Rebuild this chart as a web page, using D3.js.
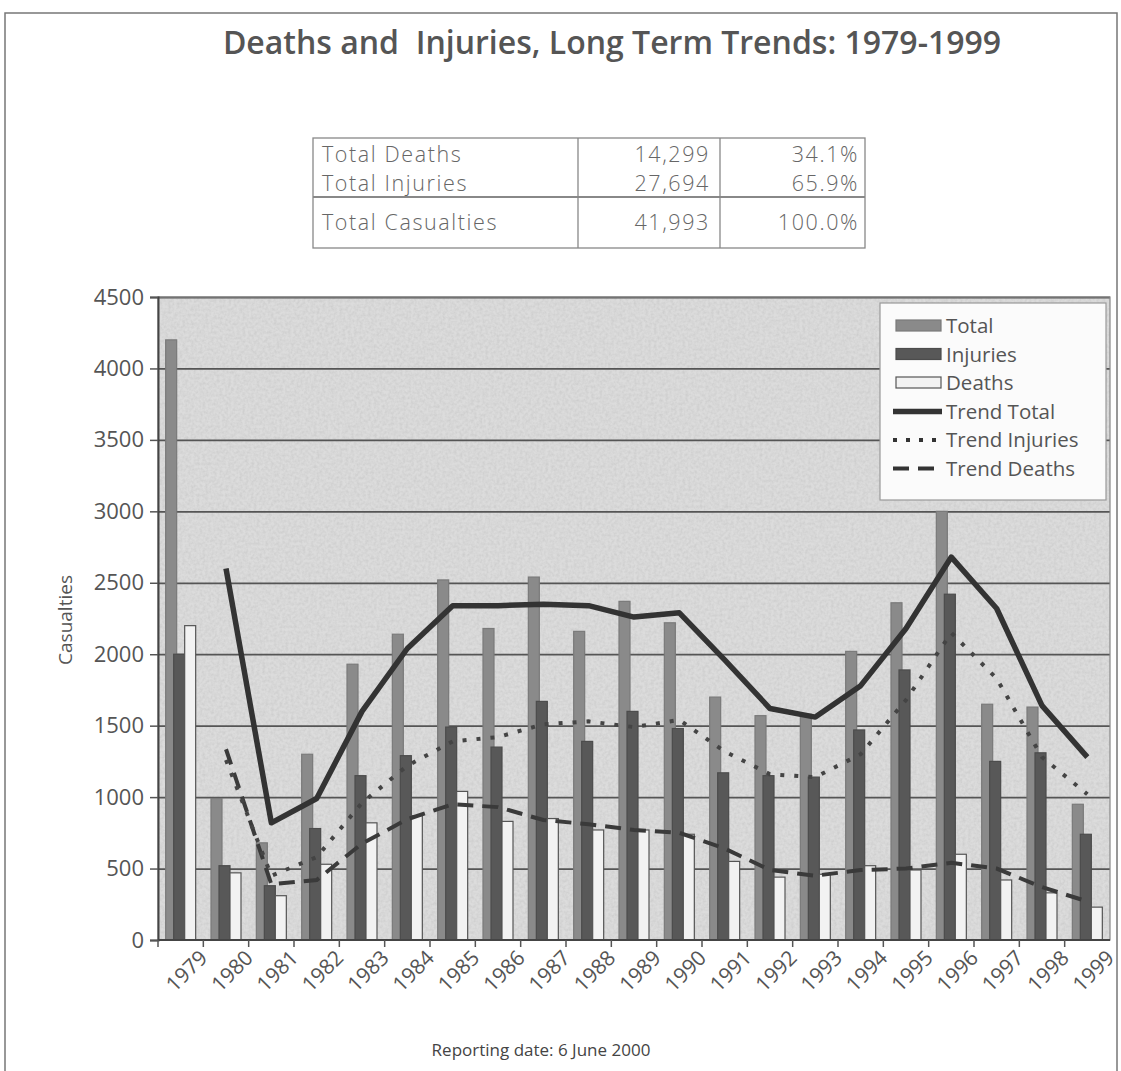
<!DOCTYPE html>
<html>
<head>
<meta charset="utf-8">
<script src="https://cdn.jsdelivr.net/npm/d3@7"></script>
<style>
  body { margin: 0; background: #fff; }
  svg { display: block; }
  text { font-family: 'Open Sans', 'DejaVu Sans', sans-serif; }
</style>
</head>
<body>
<svg id="chart" width="1121" height="1071"></svg>
<script>
// values
const years = ['1979','1980','1981','1982','1983','1984','1985','1986','1987','1988','1989',
               '1990','1991','1992','1993','1994','1995','1996','1997','1998','1999']
const total    = [4200, 990, 680, 1300, 1930, 2140, 2520, 2180, 2540, 2160, 2370, 2220, 1700, 1570, 1580, 2020, 2360, 3000, 1650, 1630, 950]
const injuries = [2000, 520, 380, 780, 1150, 1290, 1490, 1350, 1670, 1390, 1600, 1480, 1170, 1150, 1140, 1470, 1890, 2420, 1250, 1310, 740]
const deaths   = [2200, 470, 310, 530, 820, 870, 1040, 830, 850, 770, 770, 740, 550, 440, 460, 520, 490, 600, 420, 330, 230]

// trend lines start at 1980
const trendYears    = years.slice(1)
const trendTotal    = [2600, 820, 990, 1600, 2040, 2340, 2340, 2350, 2340, 2260, 2290, 1960, 1620, 1560, 1780, 2180, 2680, 2320, 1640, 1280]
const trendInjuries = [1260, 450, 580, 960, 1220, 1390, 1420, 1510, 1530, 1490, 1540, 1320, 1160, 1140, 1300, 1680, 2150, 1830, 1280, 1020]
const trendDeaths   = [1335, 390, 420, 675, 845, 950, 930, 840, 810, 770, 750, 640, 490, 450, 490, 500, 540, 500, 370, 270]

const yTicks = [0, 500, 1000, 1500, 2000, 2500, 3000, 3500, 4000, 4500]

const tableRows = [
  ['Total Deaths',     '14,299', '34.1%'],
  ['Total Injuries',   '27,694', '65.9%'],
  ['Total Casualties', '41,993', '100.0%'],
]

const legendItems = ['Total', 'Injuries', 'Deaths', 'Trend Total', 'Trend Injuries', 'Trend Deaths']

const svg = d3.select('#chart')

// page frame
svg.append('path')
  .attr('d', 'M5,1071 V13 H1117 V1071')
  .attr('fill', 'none').attr('stroke', '#777').attr('stroke-width', 1.5)

svg.append('text')
  .attr('x', 612).attr('y', 54)
  .attr('text-anchor', 'middle')
  .attr('font-size', 32).attr('font-weight', 600)
  .attr('fill', '#555')
  .style('white-space', 'pre')
  .text('Deaths and  Injuries, Long Term Trends: 1979-1999')

// summary table
const tb = { x0: 313, x1: 578, x2: 720, x3: 865, top: 138, mid: 197, bot: 248 }
const tg = svg.append('g').attr('stroke', '#888').attr('stroke-width', 1.3).attr('fill', 'none')
tg.append('rect').attr('x', tb.x0).attr('y', tb.top).attr('width', tb.x3 - tb.x0).attr('height', tb.bot - tb.top)
tg.append('line').attr('x1', tb.x0).attr('x2', tb.x3).attr('y1', tb.mid).attr('y2', tb.mid).attr('stroke-width', 2)
tg.append('line').attr('x1', tb.x1).attr('x2', tb.x1).attr('y1', tb.top).attr('y2', tb.bot)
tg.append('line').attr('x1', tb.x2).attr('x2', tb.x2).attr('y1', tb.top).attr('y2', tb.bot)

const rowY = [162, 191, 230]
tableRows.forEach((r, i) => {
  const t = svg.append('g').attr('font-size', 21.5).attr('fill', '#666').attr('font-weight', 300)
    .attr('letter-spacing', 1.6)
  t.append('text').attr('x', tb.x0 + 9).attr('y', rowY[i]).text(r[0])
  t.append('text').attr('x', tb.x2 - 10).attr('y', rowY[i]).attr('text-anchor', 'end').text(r[1])
  t.append('text').attr('x', tb.x3 - 6).attr('y', rowY[i]).attr('text-anchor', 'end').text(r[2])
})

// chart
const plot = { left: 158, right: 1110, top: 297, bottom: 940 }

const x = d3.scaleBand().domain(years).range([plot.left, plot.right])
const y = d3.scaleLinear().domain([0, 4500]).range([plot.bottom, plot.top])
const bw = x.bandwidth()

const defs = svg.append('defs')
const filt = defs.append('filter').attr('id', 'grain').attr('x', 0).attr('y', 0).attr('width', 1).attr('height', 1)
filt.append('feTurbulence').attr('type', 'fractalNoise').attr('baseFrequency', 0.35).attr('numOctaves', 2).attr('seed', 4)
filt.append('feColorMatrix').attr('type', 'matrix')
  .attr('values', '0 0 0 0 0.45  0 0 0 0 0.45  0 0 0 0 0.45  0 0 0 -1.1 0.75')
filt.append('feComposite').attr('in2', 'SourceGraphic').attr('operator', 'in')

svg.append('rect')
  .attr('x', plot.left).attr('y', plot.top)
  .attr('width', plot.right - plot.left).attr('height', plot.bottom - plot.top)
  .attr('fill', '#dcdcdc')
svg.append('rect')
  .attr('x', plot.left).attr('y', plot.top)
  .attr('width', plot.right - plot.left).attr('height', plot.bottom - plot.top)
  .attr('fill', '#dcdcdc').attr('filter', 'url(#grain)').attr('opacity', 0.55)

// gridlines
svg.append('g')
  .attr('transform', `translate(${plot.left},0)`)
  .call(d3.axisLeft(y).tickValues(yTicks.filter(v => v > 0)).tickSize(-(plot.right - plot.left)).tickFormat(''))
  .call(g => g.select('.domain').remove())
  .call(g => g.selectAll('line').attr('stroke', '#555').attr('stroke-width', 1.8))

// plot border
svg.append('rect')
  .attr('x', plot.left).attr('y', plot.top)
  .attr('width', plot.right - plot.left).attr('height', plot.bottom - plot.top)
  .attr('fill', 'none').attr('stroke', '#888').attr('stroke-width', 1.2)

// bars
const barW = 11
const series = [
  { vals: total,    dx: -15, fill: '#8a8a8a', stroke: '#7a7a7a' },
  { vals: injuries, dx: -7,  fill: '#585858', stroke: '#4c4c4c' },
  { vals: deaths,   dx: 4,   fill: '#f2f2f2', stroke: '#555' },
]
series.forEach(s => {
  svg.append('g').selectAll('rect').data(years).enter().append('rect')
    .attr('x', d => x(d) + bw / 2 + s.dx)
    .attr('y', (d, i) => y(s.vals[i]))
    .attr('width', barW)
    .attr('height', (d, i) => y(0) - y(s.vals[i]))
    .attr('fill', s.fill).attr('stroke', s.stroke).attr('stroke-width', 1.2)
})

// trend lines
const cx = d => x(d) + bw / 2
const line = vals => d3.line().x(d => cx(d)).y((d, i) => y(vals[i]))(trendYears)

svg.append('path').attr('d', line(trendDeaths))
  .attr('fill', 'none').attr('stroke', '#3a3a3a').attr('stroke-width', 4)
  .attr('stroke-dasharray', '16,9')
svg.append('path').attr('d', line(trendInjuries))
  .attr('fill', 'none').attr('stroke', '#444').attr('stroke-width', 4)
  .attr('stroke-dasharray', '4,10')
svg.append('path').attr('d', line(trendTotal))
  .attr('fill', 'none').attr('stroke', '#333').attr('stroke-width', 5.5)
  .attr('stroke-linejoin', 'round')

// y axis
svg.append('g')
  .attr('transform', `translate(${plot.left},0)`)
  .call(d3.axisLeft(y).tickValues(yTicks).tickFormat(d3.format('d')).tickSize(8).tickPadding(6))
  .call(g => g.select('.domain').attr('stroke', '#444').attr('stroke-width', 2))
  .call(g => g.selectAll('.tick line').attr('stroke', '#555').attr('stroke-width', 1.5))
  .call(g => g.selectAll('.tick text').attr('font-size', 22).attr('fill', '#555')
    .attr('font-family', "'Open Sans', sans-serif"))

svg.append('text')
  .attr('transform', 'translate(72,620) rotate(-90)')
  .attr('text-anchor', 'middle')
  .attr('font-size', 19).attr('fill', '#555')
  .text('Casualties')

// x axis: ticks at category boundaries, rotated labels
const xg = svg.append('g')
xg.append('line')
  .attr('x1', plot.left).attr('x2', plot.right)
  .attr('y1', plot.bottom).attr('y2', plot.bottom)
  .attr('stroke', '#444').attr('stroke-width', 2)
xg.selectAll('line.tk').data(years).enter().append('line')
  .attr('class', 'tk')
  .attr('x1', d => x(d)).attr('x2', d => x(d))
  .attr('y1', plot.bottom).attr('y2', plot.bottom + 7)
  .attr('stroke', '#555').attr('stroke-width', 1.5)
xg.selectAll('text').data(years).enter().append('text')
  .attr('transform', d => `translate(${cx(d) + 17},${plot.bottom + 8}) rotate(-45)`)
  .attr('text-anchor', 'end')
  .attr('dy', '0.75em')
  .attr('font-size', 21).attr('fill', '#555')
  .text(d => d)

// legend
const lg = svg.append('g').attr('transform', 'translate(880,303)')
lg.append('rect').attr('width', 226).attr('height', 197)
  .attr('fill', '#fbfbfb').attr('stroke', '#999').attr('stroke-width', 1.2)
const rowH = 28.5
legendItems.forEach((name, i) => {
  const ry = 23 + i * rowH
  const g = lg.append('g').attr('transform', `translate(0,${ry})`)
  if (i < 3) {
    const s = series[i]
    g.append('rect').attr('x', 16).attr('y', -6).attr('width', 45).attr('height', 11)
      .attr('fill', s.fill).attr('stroke', s.stroke).attr('stroke-width', 1.2)
  } else {
    const dash = [null, '4,9', '16,9'][i - 3]
    g.append('line').attr('x1', 13).attr('x2', 62).attr('y1', 0).attr('y2', 0)
      .attr('stroke', '#333').attr('stroke-width', i === 3 ? 5.5 : 4)
      .attr('stroke-dasharray', dash)
  }
  g.append('text').attr('x', 66).attr('y', 0).attr('dy', '0.35em')
    .attr('font-size', 20.5).attr('fill', '#555').text(name)
})

svg.append('text')
  .attr('x', 541).attr('y', 1056)
  .attr('text-anchor', 'middle')
  .attr('font-size', 17).attr('fill', '#444')
  .text('Reporting date: 6 June 2000')
</script>
</body>
</html>
